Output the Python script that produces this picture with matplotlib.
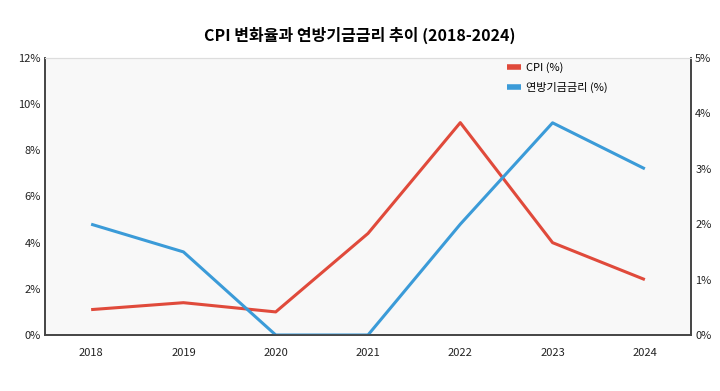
import matplotlib
matplotlib.use("Agg")
import matplotlib.pyplot as plt
from matplotlib.ticker import FuncFormatter

plt.rcParams['font.family'] = ['Noto Sans CJK KR', 'DejaVu Sans']

years = ["2018", "2019", "2020", "2021", "2022", "2023", "2024"]
cpi = [1.1, 1.4, 1.0, 4.4, 9.2, 4.0, 2.4]
fed_rate = [2.0, 1.5, 0.0, 0.0, 2.0, 3.83, 3.0]

red = "#e04a3b"
blue = "#3b9bd8"

fig = plt.figure(figsize=(7.2, 3.91), dpi=100)
ax = fig.add_axes([45 / 720, 1 - 335 / 391, 646 / 720, 277 / 391])
ax2 = ax.twinx()

x = range(len(years))
l1, = ax.plot(x, cpi, color=red, linewidth=2.2, label="CPI (%)", solid_capstyle="butt")
l2, = ax2.plot(x, fed_rate, color=blue, linewidth=2.2, label="연방기금금리 (%)", solid_capstyle="butt")

ax.set_facecolor("#f8f8f8")
ax.set_xlim(-0.5, 6.5)
ax.set_ylim(0, 12)
ax2.set_ylim(0, 5)
ax.set_xticks(list(x))
ax.set_xticklabels(years)
ax.set_yticks(range(0, 13, 2))
ax2.set_yticks(range(0, 6))
ax.yaxis.set_major_formatter(FuncFormatter(lambda v, p: f"{v:.0f}%"))
ax2.yaxis.set_major_formatter(FuncFormatter(lambda v, p: f"{v:.0f}%"))

for a in (ax, ax2):
    a.tick_params(length=0, labelsize=8, colors="#222222")
    for s in ("left", "right", "bottom"):
        a.spines[s].set_color("#444444")
        a.spines[s].set_linewidth(1.2)
    a.spines["top"].set_color("#dddddd")
ax.tick_params(axis="x", pad=9)
ax.tick_params(axis="y", pad=3)
ax2.tick_params(axis="y", pad=3)

leg = ax2.legend([l1, l2], ["CPI (%)", "연방기금금리 (%)"], loc="upper left",
                 bbox_to_anchor=(0.70, 1.02), frameon=False, fontsize=8,
                 handlelength=1.2, handletextpad=0.5, labelspacing=0.8)
for h in leg.legend_handles:
    h.set_linewidth(4)

fig.suptitle("CPI 변화율과 연방기금금리 추이 (2018-2024)", fontsize=11.5, fontweight="bold",
             y=1 - 35 / 391, va="center")

fig.savefig("out.png", dpi=100)
